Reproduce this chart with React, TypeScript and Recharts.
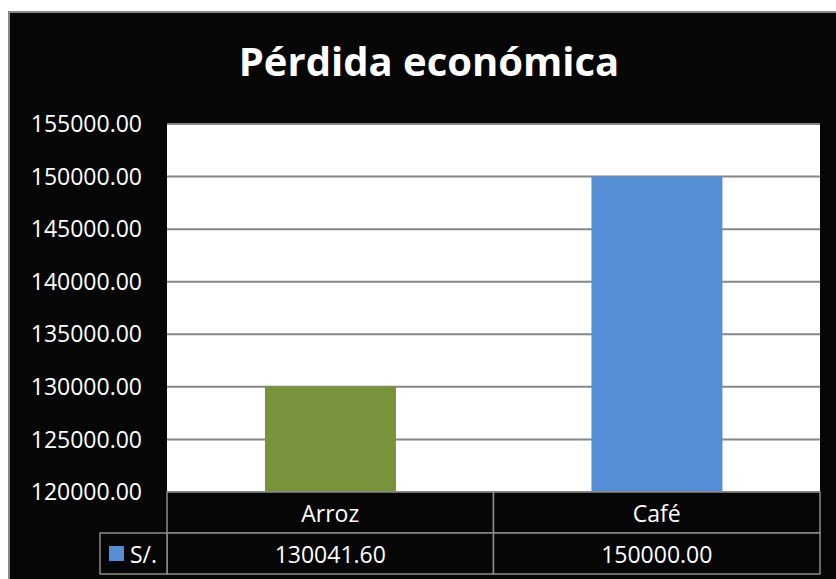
import { BarChart, Bar, Cell, XAxis, YAxis, CartesianGrid } from 'recharts'

const categories = ['Arroz', 'Café']
const values = [130041.6, 150000.0]
const barColors = ['#77933C', '#558ED5']
const yTicks = [120000, 125000, 130000, 135000, 140000, 145000, 150000, 155000]
const seriesName = 'S/.'

const data = categories.map((name, i) => ({ name, value: values[i] }))

const FONT = '"Open Sans", sans-serif'
const COL_W = (820 - 167) / categories.length
const ROW_H = 41
const LINE = '#8c8c8c'

function TableTick(props: any) {
  const { x, y, payload, index } = props
  const left = x - COL_W / 2
  const val = values[index]
  return (
    <g>
      <rect x={left} y={y} width={COL_W} height={ROW_H} fill="#060606" stroke={LINE} strokeWidth={1.5} />
      <rect x={left} y={y + ROW_H} width={COL_W} height={ROW_H} fill="#060606" stroke={LINE} strokeWidth={1.5} />
      <text x={x} y={y + ROW_H / 2} fill="#fff" fontSize={23} fontFamily={FONT} textAnchor="middle" dominantBaseline="central">
        {payload.value}
      </text>
      <text x={x} y={y + ROW_H * 1.5} fill="#fff" fontSize={23} fontFamily={FONT} textAnchor="middle" dominantBaseline="central">
        {val.toFixed(2)}
      </text>
      {index === 0 && (
        <g>
          <rect x={100} y={y + ROW_H} width={left - 100} height={ROW_H} fill="#060606" stroke={LINE} strokeWidth={1.5} />
          <rect x={109} y={y + ROW_H * 1.5 - 7.5} width={15} height={15} fill="#558ED5" />
          <text x={130} y={y + ROW_H * 1.5} fill="#fff" fontSize={23} fontFamily={FONT} dominantBaseline="central">
            {seriesName}
          </text>
        </g>
      )}
    </g>
  )
}

export default function App() {
  return (
    <div style={{ position: 'absolute', left: 0, top: 0, width: 836, height: 579, background: '#fff' }}>
      <div
        style={{
          position: 'absolute',
          left: 8,
          top: 11,
          width: 828,
          height: 568,
          background: '#060606',
          borderLeft: '2px solid #8a8a8a',
          borderTop: '2px solid #8a8a8a',
          boxSizing: 'border-box',
        }}
      />
      <div
        style={{
          position: 'absolute',
          left: 15,
          width: 828,
          top: 31,
          textAlign: 'center',
          color: '#fff',
          fontFamily: FONT,
          fontWeight: 700,
          fontSize: 40,
          lineHeight: '60px',
        }}
      >
        Pérdida económica
      </div>
      <div style={{ position: 'absolute', left: 0, top: 0 }}>
        <BarChart
          width={836}
          height={579}
          data={data}
          margin={{ top: 124, right: 16, left: 0, bottom: 0 }}
          barCategoryGap="30%"
        >
          <CartesianGrid vertical={false} stroke="#868686" strokeWidth={2} fill="#fff" />
          <YAxis
            width={167}
            domain={[120000, 155000]}
            ticks={yTicks}
            tickFormatter={(v: number) => v.toFixed(2)}
            axisLine={false}
            tickLine={false}
            tickSize={0}
            tickMargin={25}
            tick={{ fill: '#fff', fontSize: 23, fontFamily: FONT }}
          />
          <XAxis
            dataKey="name"
            height={87}
            axisLine={false}
            tickLine={false}
            tickSize={0}
            tickMargin={0}
            tick={<TableTick />}
          />
          <Bar dataKey="value" isAnimationActive={false}>
            {data.map((d, i) => (
              <Cell key={d.name} fill={barColors[i]} />
            ))}
          </Bar>
        </BarChart>
      </div>
    </div>
  )
}
